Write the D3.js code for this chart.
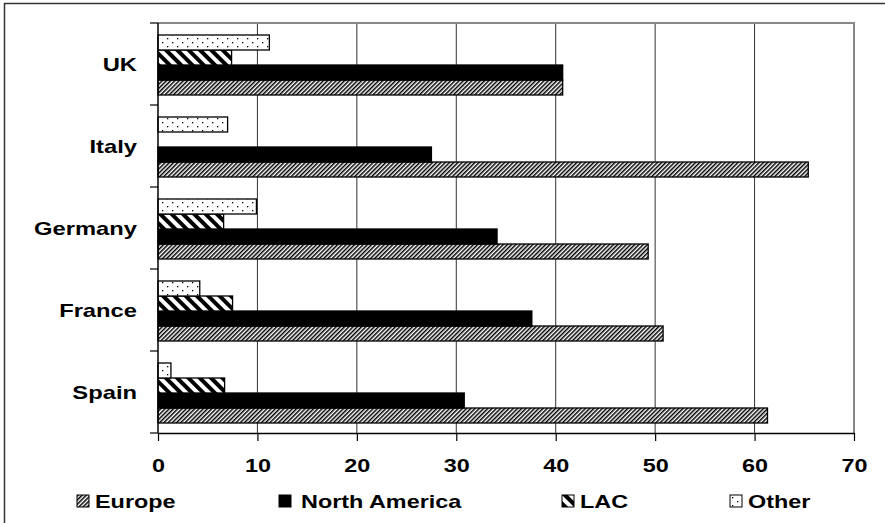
<!DOCTYPE html>
<html>
<head>
<meta charset="utf-8">
<script src="https://cdn.jsdelivr.net/npm/d3@7/dist/d3.min.js"></script>
<style>
  body { margin: 0; background: #fff; }
  svg { display: block; font-family: "Liberation Sans", Arial, sans-serif; font-weight: bold; }
</style>
</head>
<body>
<script>
// data (values in %)
const categories = ['UK', 'Italy', 'Germany', 'France', 'Spain'];
const series = ['Europe', 'North America', 'LAC', 'Other'];
const europe = [40.7, 65.4, 49.3, 50.8, 61.3];
const northAmerica = [40.7, 27.5, 34.1, 37.6, 30.8];
const lac = [7.4, null, 6.6, 7.5, 6.7];
const other = [11.2, 7.0, 9.9, 4.2, 1.3];
const xTicks = [0, 10, 20, 30, 40, 50, 60, 70];

const svgWidth = 885;
const svgHeight = 523;
const plot = { left: 158, right: 854, top: 23, bottom: 433 };
const stretch = 1.3; // the original text is stretched sideways

const svg = d3.select('body')
.append('svg')
.attr('width', svgWidth)
.attr('height', svgHeight)

// patterns for the four series
const defs = svg.append('defs');

const fineHatch = defs.append('pattern')
.attr('id', 'pat-europe')
.attr('patternUnits', 'userSpaceOnUse')
.attr('width', 3).attr('height', 3)
.attr('patternTransform', 'rotate(45)')
fineHatch.append('rect').attr('width', 3).attr('height', 3).attr('fill', '#fff')
fineHatch.append('rect').attr('width', 1.5).attr('height', 3).attr('fill', '#000')

const wideHatch = defs.append('pattern')
.attr('id', 'pat-lac')
.attr('patternUnits', 'userSpaceOnUse')
.attr('width', 8).attr('height', 8)
.attr('patternTransform', 'rotate(-45)')
wideHatch.append('rect').attr('width', 8).attr('height', 8).attr('fill', '#fff')
wideHatch.append('rect').attr('width', 4).attr('height', 8).attr('fill', '#000')

const dots = defs.append('pattern')
.attr('id', 'pat-other')
.attr('patternUnits', 'userSpaceOnUse')
.attr('width', 10).attr('height', 8)
dots.append('rect').attr('width', 10).attr('height', 8).attr('fill', '#fff')
dots.append('rect').attr('x', 2).attr('y', 2).attr('width', 1.3).attr('height', 1.3).attr('fill', '#000')
dots.append('rect').attr('x', 7).attr('y', 6).attr('width', 1.3).attr('height', 1.3).attr('fill', '#000')

const fills = {
    'Europe': 'url(#pat-europe)',
    'North America': '#000',
    'LAC': 'url(#pat-lac)',
    'Other': 'url(#pat-other)'
};
const valuesBySeries = {
    'Europe': europe,
    'North America': northAmerica,
    'LAC': lac,
    'Other': other
};

// outer chart frame (runs off the right and bottom edge)
svg.append('rect')
.attr('x', 4.5).attr('y', 3.5)
.attr('width', 920).attr('height', 560)
.attr('fill', 'none')
.attr('stroke', '#333')
.attr('stroke-width', 1.5)

const x = d3.scaleLinear().domain([0, 70]).range([plot.left, plot.right]);
const y0 = d3.scaleBand().domain(categories).range([plot.top, plot.bottom]).padding(0);
// bars inside a group, top to bottom: Other, LAC, North America, Europe
const y1 = d3.scaleBand().domain(series.slice().reverse()).range([12, 72]).padding(0);

// gridlines
svg.append('g')
.selectAll('line')
.data(xTicks.slice(1, -1))
.enter()
.append('line')
.attr('x1', (d) => x(d)).attr('x2', (d) => x(d))
.attr('y1', plot.top).attr('y2', plot.bottom)
.attr('stroke', '#333')
.attr('stroke-width', 1)

// plot area border, top and right in grey
svg.append('path')
.attr('d', `M${plot.left},${plot.top}H${plot.right}V${plot.bottom}`)
.attr('fill', 'none')
.attr('stroke', '#888')
.attr('stroke-width', 2)

// bars
const rows = [];
categories.forEach((c, i) => {
    series.forEach((s) => {
        const v = valuesBySeries[s][i];
        if (v != null) {
            rows.push({ category: c, series: s, value: v });
        }
    })
})

svg.append('g')
.selectAll('rect')
.data(rows)
.enter()
.append('rect')
.attr('x', x(0))
.attr('y', (d) => y0(d.category) + y1(d.series))
.attr('width', (d) => x(d.value) - x(0))
.attr('height', y1.bandwidth())
.attr('fill', (d) => fills[d.series])
.attr('stroke', '#000')
.attr('stroke-width', 1.3)

// x axis
const xAxis = svg.append('g')
.attr('transform', `translate(0, ${plot.bottom})`)
.call(d3.axisBottom(x).tickValues(xTicks).tickSize(8).tickSizeOuter(0))

xAxis.select('.domain').attr('stroke', '#000').attr('stroke-width', 1.5)
xAxis.selectAll('.tick line').attr('stroke', '#000').attr('stroke-width', 1.2)
xAxis.selectAll('.tick text')
.attr('y', null).attr('dy', null)
.attr('transform', `translate(0, 39) scale(${stretch}, 1)`)
.attr('font-size', 18)
.attr('font-family', '"Liberation Sans", Arial, sans-serif')
.attr('font-weight', 'bold')
.attr('fill', '#000')

// y axis: labels at band centres, ticks at band edges
const yAxis = svg.append('g')
.attr('transform', `translate(${plot.left}, 0)`)
.call(d3.axisLeft(y0).tickSize(0).tickPadding(21))

yAxis.select('.domain').remove()
yAxis.selectAll('.tick text')
.attr('x', null).attr('dy', null)
.attr('transform', `translate(-21, 6.5) scale(1.25, 1)`)
.attr('font-size', 19)
.attr('font-family', '"Liberation Sans", Arial, sans-serif')
.attr('font-weight', 'bold')
.attr('fill', '#000')

const edges = categories.map((c) => y0(c)).concat([y0.range()[1]]);
svg.append('g')
.selectAll('line')
.data(edges)
.enter()
.append('line')
.attr('x1', plot.left - 8).attr('x2', plot.left)
.attr('y1', (d) => d).attr('y2', (d) => d)
.attr('stroke', '#000')
.attr('stroke-width', 1.2)

svg.append('line')
.attr('x1', plot.left).attr('x2', plot.left)
.attr('y1', plot.top).attr('y2', plot.bottom)
.attr('stroke', '#000')
.attr('stroke-width', 1.5)

// legend
const legendX = {
    'Europe': 77,
    'North America': 279,
    'LAC': 562,
    'Other': 730
};
const legend = svg.append('g')
.selectAll('g')
.data(series)
.enter()
.append('g')
.attr('transform', (d) => `translate(${legendX[d]}, 495)`)

legend.append('rect')
.attr('width', 12).attr('height', 12)
.attr('fill', (d) => fills[d])
.attr('stroke', '#000')
.attr('stroke-width', 1)

legend.append('text')
.attr('transform', (d) => `translate(${d === 'North America' ? 22 : 18}, 13) scale(${stretch}, 1)`)
.attr('font-size', 18)
.attr('fill', '#000')
.text((d) => d)
</script>
</body>
</html>
